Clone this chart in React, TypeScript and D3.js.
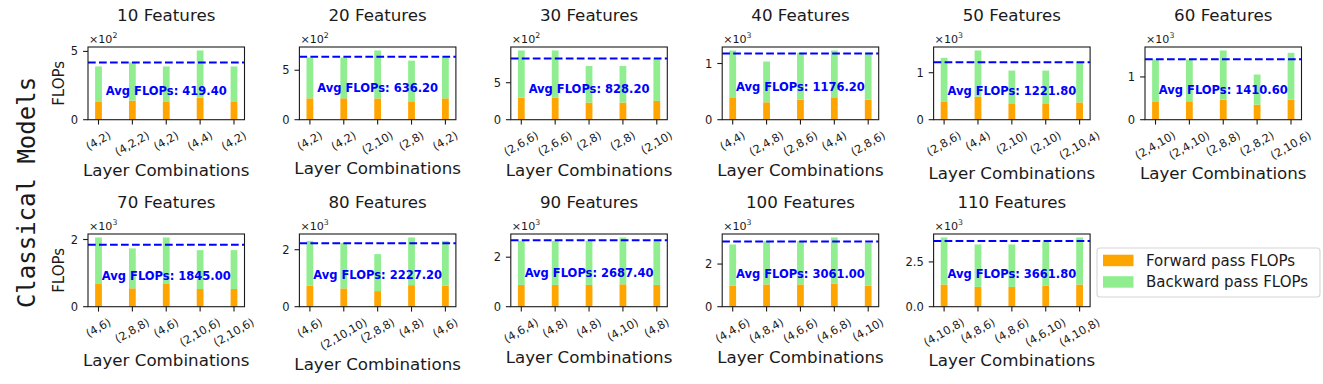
import React, { useEffect, useRef } from 'react';
import * as d3 from 'd3';

const panelTitles = [
  '10 Features', '20 Features', '30 Features', '40 Features', '50 Features', '60 Features',
  '70 Features', '80 Features', '90 Features', '100 Features', '110 Features',
];

const layerCombos = [
  ['(4,2)', '(4,2,2)', '(4,2)', '(4,4)', '(4,2)'],
  ['(4,2)', '(4,2)', '(2,10)', '(2,8)', '(4,2)'],
  ['(2,6,6)', '(2,6,6)', '(2,8)', '(2,8)', '(2,10)'],
  ['(4,4)', '(2,4,8)', '(2,8,6)', '(4,4)', '(2,8,6)'],
  ['(2,8,6)', '(4,4)', '(2,10)', '(2,10)', '(2,10,4)'],
  ['(2,4,10)', '(2,4,10)', '(2,8,8)', '(2,8,2)', '(2,10,6)'],
  ['(4,6)', '(2,8,8)', '(4,6)', '(2,10,6)', '(2,10,6)'],
  ['(4,6)', '(2,10,10)', '(2,8,8)', '(4,8)', '(4,6)'],
  ['(4,6,4)', '(4,8)', '(4,8)', '(4,10)', '(4,8)'],
  ['(4,4,6)', '(4,8,4)', '(4,6,6)', '(4,6,8)', '(4,10)'],
  ['(4,10,8)', '(4,8,6)', '(4,8,6)', '(4,6,10)', '(4,10,8)'],
];

const forwardFlops = [
  [130, 140, 130, 162, 130],
  [216, 216, 215, 186, 216],
  [296, 296, 232, 232, 254],
  [398, 310, 357, 398, 357],
  [390, 490, 334, 334, 368],
  [430, 430, 470, 352, 470],
  [675, 548, 675, 527, 527],
  [733, 642, 548, 757, 733],
  [880, 880, 880, 905, 880],
  [980, 1045, 1045, 1075, 985],
  [1240, 1108, 1108, 1165, 1240],
];

const backwardFlops = [
  [260, 280, 260, 345, 260],
  [412, 412, 485, 411, 412],
  [640, 640, 494, 494, 563],
  [834, 725, 834, 834, 834],
  [928, 984, 712, 712, 857],
  [977, 977, 1149, 704, 1094],
  [1386, 1187, 1386, 1157, 1157],
  [1577, 1599, 1297, 1673, 1577],
  [1780, 1780, 1780, 1892, 1780],
  [1938, 2028, 2028, 2172, 2009],
  [2626, 2369, 2369, 2458, 2626],
];

const avgFlops = [419.4, 636.2, 828.2, 1176.2, 1221.8, 1410.6, 1845.0, 2227.2, 2687.4, 3061.0, 3661.8];

const yTicks = [
  [0, 500], [0, 500], [0, 500], [0, 1000], [0, 1000], [0, 1000],
  [0, 2000], [0, 2000], [0, 2000], [0, 2000], [0, 2500],
];
const yExponents = [2, 2, 2, 3, 3, 3, 3, 3, 3, 3, 3];
const yTickDecimals = [0, 0, 0, 0, 0, 0, 0, 0, 0, 0, 1];

const legendLabels = ['Forward pass FLOPs', 'Backward pass FLOPs'];
const forwardColor = '#FFA500';
const backwardColor = '#90EE90';

export default function App() {
  const ref = useRef<SVGSVGElement>(null);

  useEffect(() => {
    const svg = d3.select(ref.current);
    svg.selectAll('*').remove();

    const font = 'DejaVu Sans';
    const ink = '#1a1a1a';
    const axW = 156.5, axH = 72.7;
    const colLefts = d3.range(6).map((c) => 88 + c * 211.4);
    const rowTops = [47, 234];
    const barW = 0.2;
    const tickLen = 4.9, tickPad = 4.9;
    const xtSize = 11.3;

    svg.append('rect').attr('width', 1323).attr('height', 384).attr('fill', '#fff');

    panelTitles.forEach((title, i) => {
      const row = Math.floor(i / 6), col = i % 6;
      const x0 = colLefts[col], y0 = rowTops[row];
      const g = svg.append('g');
      const combos = layerCombos[i];
      const n = combos.length;
      const totals = forwardFlops[i].map((f, j) => f + backwardFlops[i][j]);
      const pad = barW / 2 + 0.05 * (n - 1 + barW);
      const x = d3.scaleLinear().domain([-pad, n - 1 + pad]).range([x0, x0 + axW]);
      const y = d3.scaleLinear().domain([0, d3.max(totals)! * 1.05]).range([y0 + axH, y0]);
      const pxW = x(barW) - x(0);

      // stacked bars
      g.selectAll('.fwd').data(forwardFlops[i]).enter().append('rect')
        .attr('x', (_, j) => x(j) - pxW / 2)
        .attr('y', (d) => y(d))
        .attr('width', pxW)
        .attr('height', (d) => y(0) - y(d))
        .attr('fill', forwardColor);
      g.selectAll('.bwd').data(backwardFlops[i]).enter().append('rect')
        .attr('x', (_, j) => x(j) - pxW / 2)
        .attr('y', (d, j) => y(d + forwardFlops[i][j]))
        .attr('width', pxW)
        .attr('height', (d) => y(0) - y(d))
        .attr('fill', backwardColor);

      // average line + label
      g.append('line')
        .attr('x1', x0).attr('x2', x0 + axW)
        .attr('y1', y(avgFlops[i])).attr('y2', y(avgFlops[i]))
        .attr('stroke', 'blue').attr('stroke-width', 2)
        .attr('stroke-dasharray', '7.7,3.3');
      g.append('text')
        .attr('x', x0 + axW / 2)
        .attr('y', y(avgFlops[i] / 2))
        .attr('text-anchor', 'middle')
        .attr('dominant-baseline', 'central')
        .attr('font-family', font).attr('font-weight', 'bold').attr('font-size', 11.5)
        .attr('fill', 'blue')
        .text(`Avg FLOPs: ${avgFlops[i].toFixed(2)}`);

      // frame
      g.append('rect')
        .attr('x', x0).attr('y', y0).attr('width', axW).attr('height', axH)
        .attr('fill', 'none').attr('stroke', ink).attr('stroke-width', 1.1);

      // y ticks
      const scale = Math.pow(10, yExponents[i]);
      yTicks[i].forEach((t) => {
        g.append('line')
          .attr('x1', x0 - tickLen).attr('x2', x0)
          .attr('y1', y(t)).attr('y2', y(t))
          .attr('stroke', ink).attr('stroke-width', 1.1);
        g.append('text')
          .attr('x', x0 - tickLen - tickPad)
          .attr('y', y(t))
          .attr('text-anchor', 'end')
          .attr('dominant-baseline', 'central')
          .attr('font-family', font).attr('font-size', 11.5).attr('fill', ink)
          .text((t / scale).toFixed(yTickDecimals[i]));
      });

      // offset text
      const off = g.append('text')
        .attr('x', x0 + 1).attr('y', y0 - 4.5)
        .attr('font-family', font).attr('font-size', 11.1).attr('fill', ink);
      off.append('tspan').text('×10');
      off.append('tspan').attr('font-size', 7.8).attr('dy', -4.5).text(String(yExponents[i]));

      // x ticks with rotated labels
      let maxBottom = y0 + axH;
      combos.forEach((lab, j) => {
        g.append('line')
          .attr('x1', x(j)).attr('x2', x(j))
          .attr('y1', y0 + axH).attr('y2', y0 + axH + tickLen)
          .attr('stroke', ink).attr('stroke-width', 1.1);
        const t = g.append('text')
          .attr('text-anchor', 'middle')
          .attr('dominant-baseline', 'central')
          .attr('font-family', font).attr('font-size', xtSize).attr('fill', ink)
          .text(lab);
        const w = (t.node() as SVGTextElement).getComputedTextLength();
        const h = xtSize * 1.0;
        const H = w * 0.5 + h * 0.866;
        const top = y0 + axH + tickLen + tickPad;
        t.attr('transform', `translate(${x(j)},${top + H / 2}) rotate(-30)`);
        maxBottom = Math.max(maxBottom, top + H);
      });

      // x label
      g.append('text')
        .attr('x', x0 + axW / 2)
        .attr('y', maxBottom + 17.5)
        .attr('text-anchor', 'middle')
        .attr('font-family', font).attr('font-size', 16.7).attr('fill', ink)
        .text('Layer Combinations');

      // title
      g.append('text')
        .attr('x', x0 + axW / 2)
        .attr('y', y0 - 26)
        .attr('text-anchor', 'middle')
        .attr('font-family', font).attr('font-size', 16.7).attr('fill', ink)
        .text(title);

      // y label on first column
      if (col === 0) {
        g.append('text')
          .attr('transform', `translate(58.5,${y0 + axH / 2}) rotate(-90)`)
          .attr('text-anchor', 'middle')
          .attr('dominant-baseline', 'central')
          .attr('font-family', font).attr('font-size', 15).attr('fill', ink)
          .text('FLOPs');
      }
    });

    // row label
    svg.append('text')
      .attr('transform', 'translate(35,192.5) rotate(-90)')
      .attr('text-anchor', 'middle')
      .attr('font-family', 'DejaVu Sans Mono').attr('font-size', 24).attr('fill', ink)
      .text('Classical Models');

    // legend
    const lg = svg.append('g');
    lg.append('rect')
      .attr('x', 1097).attr('y', 248).attr('width', 223).attr('height', 49).attr('rx', 3)
      .attr('fill', '#fff').attr('stroke', '#d6d6d6').attr('stroke-width', 1.1);
    [forwardColor, backwardColor].forEach((c, k) => {
      const cy = 260.5 + k * 21.5;
      lg.append('rect')
        .attr('x', 1103).attr('y', cy - 5.8).attr('width', 30.5).attr('height', 11.5)
        .attr('fill', c);
      lg.append('text')
        .attr('x', 1146).attr('y', cy)
        .attr('dominant-baseline', 'central')
        .attr('font-family', font).attr('font-size', 15).attr('fill', ink)
        .text(legendLabels[k]);
    });
  }, []);

  return (
    <svg
      ref={ref}
      width={1323}
      height={384}
      style={{ position: 'absolute', left: 0, top: 0 }}
    />
  );
}
